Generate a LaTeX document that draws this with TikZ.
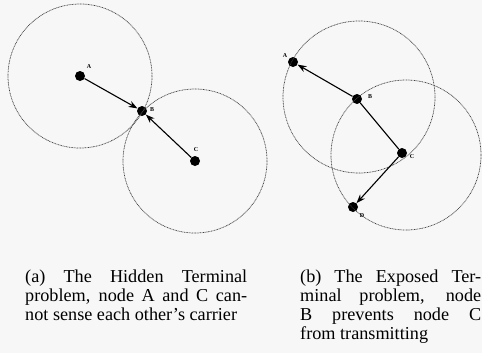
\documentclass[tikz,border=0pt]{standalone}
\usepackage{fontspec}
\setmainfont{Liberation Serif}
\usetikzlibrary{arrows.meta}
\begin{document}
\begin{tikzpicture}[x=1bp,y=-1bp,
  dot/.style={circle,fill=black,inner sep=0pt,minimum size=10bp},
  radiorange/.style={draw=black!75,line width=0.7bp,dash pattern=on 0.9bp off 0.7bp},
  link/.style={line width=1.1bp,-{Stealth[length=9bp,width=6.5bp,inset=3bp]}},
  plain/.style={line width=1.1bp},
  lbl/.style={font=\fontsize{6bp}{7bp}\selectfont\bfseries,inner sep=0pt},
  captext/.style={anchor=base west,inner sep=0pt,font=\fontsize{18.2bp}{19bp}\selectfont}]
\useasboundingbox[fill=black!3] (0,0) rectangle (482,353);
% left: hidden terminal
\node[dot] (A) at (80,76) {};
\node[dot] (B) at (142,111) {};
\node[dot] (C) at (195,161) {};
\draw[radiorange] (A.center) circle[radius=72];
\draw[radiorange] (C.center) circle[radius=72];
\node[lbl] (lA) at (89,67) {A};
\node[lbl] (lB) at (152,110) {B};
\node[lbl] (lC) at (196,150) {C};
\draw[link] (A) -- (B);
\draw[link] (C) -- (B);
% right: exposed terminal
\node[dot] (A2) at (293,62) {};
\node[dot] (B2) at (357,99) {};
\node[dot] (C2) at (402,153) {};
\node[dot] (D2) at (353,207) {};
\draw[radiorange] (359,97) circle[radius=76];
\draw[radiorange] (406,155) circle[radius=75];
\node[lbl] (lA2) at (285,56) {A};
\node[lbl] (lB2) at (370,97) {B};
\node[lbl] (lC2) at (412,157) {C};
\node[lbl] (lD2) at (362,216) {D};
\draw[link] (B2) -- (A2);
\draw[plain] (B2) -- (C2);
\draw[link] (C2) -- (D2);
% captions
\node[captext] (ca1) at (25,282) {\makebox[222bp][s]{(a) The Hidden Terminal}};
\node[captext] (ca2) at (25,301) {\makebox[222bp][s]{problem, node A and C can-}};
\node[captext] (ca3) at (25,320) {not sense each other's carrier};
\node[captext] (cb1) at (300,282) {\makebox[181bp][s]{(b) The Exposed Ter-}};
\node[captext] (cb2) at (300,301) {\makebox[181bp][s]{minal problem, node}};
\node[captext] (cb3) at (300,320) {\makebox[181bp][s]{B prevents node C}};
\node[captext] (cb4) at (300,339) {from transmitting};
\end{tikzpicture}
\end{document}
